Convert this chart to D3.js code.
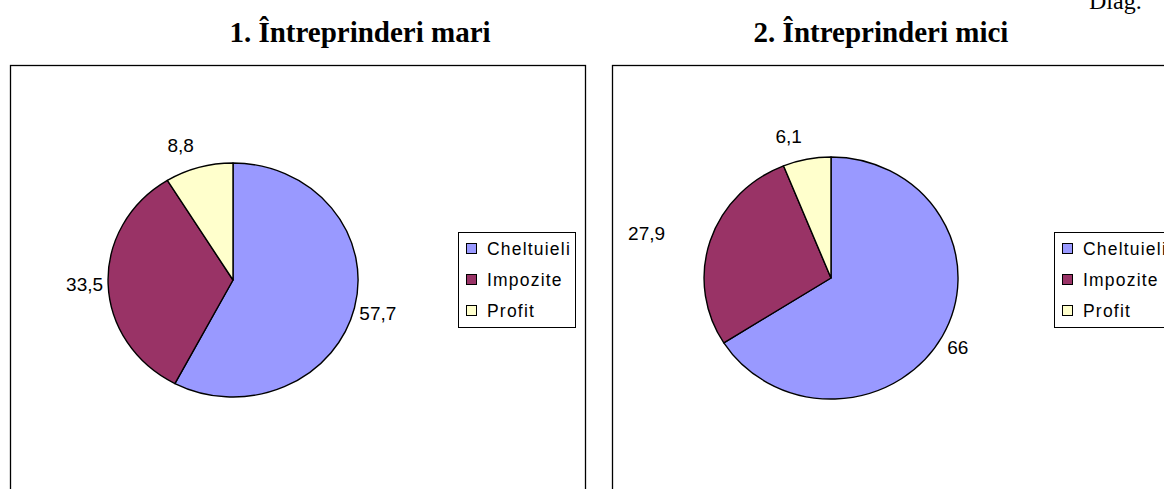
<!DOCTYPE html>
<html>
<head>
<meta charset="utf-8">
<script src="https://cdn.jsdelivr.net/npm/d3@7"></script>
<style>
  html, body { margin: 0; padding: 0; background: #fff; }
  svg { display: block; }
  .title { font-family: "Liberation Serif", "Times New Roman", serif; font-weight: bold; font-size: 29px; }
  .corner { font-family: "Liberation Serif", "Times New Roman", serif; font-size: 24px; }
  .lbl { font-family: "Liberation Sans", Arial, sans-serif; font-size: 19px; fill: #000; }
  .leg { font-family: "Liberation Sans", Arial, sans-serif; font-size: 17.5px; letter-spacing: 1.2px; }
</style>
</head>
<body>
<div id="chart"></div>
<script>
(function () {
  "use strict";

  // ── Data ──────────────────────────────────────────
  const CATEGORIES = ["Cheltuieli", "Impozite", "Profit"];
  const COLORS = ["#9999FF", "#993366", "#FFFFCC"];
  const MARI_VALUES = [57.7, 33.5, 8.8];
  const MICI_VALUES = [66, 27.9, 6.1];
  const TITLES = ["1. Întreprinderi mari", "2. Întreprinderi mici"];

  // ── Layout ────────────────────────────────────────
  const W = 1164, H = 489;
  const PANELS = [
    { values: MARI_VALUES, title: TITLES[0], box: [10.5, 65.5, 575], titleX: 360,
      cx: 233, cy: 280, rx: 125, ry: 117, legX: 458.5, labelGap: [5, 5, 5] },
    { values: MICI_VALUES, title: TITLES[1], box: [612.5, 65.5, 600], titleX: 881,
      cx: 831, cy: 278, rx: 127, ry: 121, legX: 1054.5, labelGap: [5, 45, 5] }
  ];
  const LABEL_LIFT = 23;

  const roLocale = d3.formatLocale({ decimal: ",", thousands: ".", grouping: [3], currency: ["", ""] });
  const fmt = roLocale.format("~g");

  const color = d3.scaleOrdinal().domain(CATEGORIES).range(COLORS);
  const pie = d3.pie().sort(null).value(d => d.value);
  const arc = d3.arc().innerRadius(0).outerRadius(1);

  const svg = d3.select("#chart").append("svg")
    .attr("width", W).attr("height", H);

  svg.append("rect").attr("width", W).attr("height", H).attr("fill", "#fff");

  // cut-off caption, top right
  svg.append("text").attr("class", "corner")
    .attr("x", 1089).attr("y", 9).text("Diag.");

  PANELS.forEach(p => {
    const data = CATEGORIES.map((c, i) => ({ name: c, value: p.values[i] }));
    const arcs = pie(data);
    const mid = d => (d.startAngle + d.endAngle) / 2;

    svg.append("text").attr("class", "title")
      .attr("x", p.titleX).attr("y", 42)
      .attr("text-anchor", "middle")
      .text(p.title);

    svg.append("rect")
      .attr("x", p.box[0]).attr("y", p.box[1])
      .attr("width", p.box[2]).attr("height", H)
      .attr("fill", "none").attr("stroke", "#000").attr("stroke-width", 1.3);

    // slices (unit arc stretched into an ellipse)
    svg.append("g")
      .attr("transform", `translate(${p.cx},${p.cy}) scale(${p.rx},${p.ry})`)
      .selectAll("path").data(arcs).join("path")
      .attr("d", arc)
      .attr("fill", d => color(d.data.name))
      .attr("stroke", "#000")
      .attr("stroke-width", 1.4)
      .attr("stroke-linejoin", "round")
      .attr("vector-effect", "non-scaling-stroke");

    // value labels: hang off the rim point at mid-angle, Excel style
    svg.append("g").selectAll("text").data(arcs).join("text")
      .attr("class", "lbl")
      .attr("x", (d, i) => {
        const s = Math.sin(mid(d));
        return p.cx + p.rx * s + (s < 0 ? -1 : 1) * p.labelGap[i];
      })
      .attr("y", d => p.cy - (p.ry + LABEL_LIFT) * Math.cos(mid(d)))
      .attr("text-anchor", d => Math.sin(mid(d)) < 0 ? "end" : "start")
      .attr("dominant-baseline", "central")
      .text(d => fmt(d.data.value));

    // legend
    const leg = svg.append("g").attr("transform", `translate(${p.legX},232.5)`);
    leg.append("rect")
      .attr("width", 117).attr("height", 95)
      .attr("fill", "#fff").attr("stroke", "#000").attr("stroke-width", 1);
    const rows = leg.selectAll("g").data(CATEGORIES).join("g")
      .attr("transform", (d, i) => `translate(0,${16 + i * 31})`);
    rows.append("rect")
      .attr("x", 8).attr("y", -5).attr("width", 10).attr("height", 10)
      .attr("fill", d => color(d)).attr("stroke", "#000").attr("stroke-width", 1);
    rows.append("text").attr("class", "leg")
      .attr("x", 28.5).attr("y", 6.5)
      .text(d => d);
  });
})();
</script>
</body>
</html>
